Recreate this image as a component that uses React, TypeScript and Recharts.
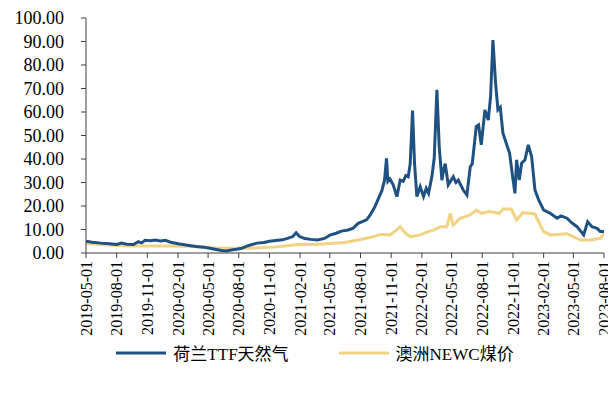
import React from 'react';
import { LineChart, Line, XAxis, YAxis, Legend } from 'recharts';

// 荷兰TTF天然气 (date, value)
const ttfPoints: [string, number][] = [
  ['2019-05-01', 5.0], ['2019-05-20', 4.6], ['2019-06-15', 4.2], ['2019-07-10', 3.9],
  ['2019-08-01', 3.6], ['2019-08-15', 4.2], ['2019-09-01', 3.7], ['2019-09-20', 3.6],
  ['2019-10-05', 4.8], ['2019-10-15', 4.3], ['2019-10-25', 5.4], ['2019-11-10', 5.2],
  ['2019-11-25', 5.5], ['2019-12-10', 5.1], ['2019-12-25', 5.4], ['2020-01-10', 4.6],
  ['2020-02-01', 3.9], ['2020-02-20', 3.5], ['2020-03-10', 3.1], ['2020-04-01', 2.7],
  ['2020-04-20', 2.4], ['2020-05-10', 1.9], ['2020-05-25', 1.5], ['2020-06-10', 1.1],
  ['2020-06-25', 0.9], ['2020-07-10', 1.3], ['2020-07-25', 1.6], ['2020-08-10', 2.0],
  ['2020-08-25', 2.9], ['2020-09-10', 3.6], ['2020-09-25', 4.2], ['2020-10-15', 4.5],
  ['2020-11-01', 5.0], ['2020-11-20', 5.3], ['2020-12-10', 5.6], ['2020-12-25', 6.2],
  ['2021-01-10', 7.0], ['2021-01-20', 8.6], ['2021-01-30', 7.0], ['2021-02-15', 6.2],
  ['2021-03-05', 5.8], ['2021-03-25', 5.5], ['2021-04-15', 6.2], ['2021-05-01', 7.6],
  ['2021-05-20', 8.4], ['2021-06-05', 9.3], ['2021-06-25', 9.8], ['2021-07-10', 10.6],
  ['2021-07-25', 12.6], ['2021-08-10', 13.6], ['2021-08-20', 14.2], ['2021-08-30', 16.2],
  ['2021-09-13', 19.7], ['2021-09-22', 22.6], ['2021-10-04', 26.5], ['2021-10-12', 31.0],
  ['2021-10-18', 40.3], ['2021-10-22', 30.5], ['2021-10-28', 31.5], ['2021-11-07', 29.0],
  ['2021-11-18', 24.0], ['2021-11-28', 31.0], ['2021-12-07', 30.5], ['2021-12-15', 33.0],
  ['2021-12-22', 32.5], ['2021-12-28', 38.0], ['2022-01-04', 60.6], ['2022-01-10', 38.0],
  ['2022-01-17', 24.0], ['2022-01-27', 28.2], ['2022-02-06', 24.0], ['2022-02-14', 27.5],
  ['2022-02-21', 25.4], ['2022-03-03', 32.5], ['2022-03-10', 40.3], ['2022-03-18', 69.4],
  ['2022-03-25', 45.2], ['2022-04-02', 31.0], ['2022-04-08', 36.0], ['2022-04-12', 38.0],
  ['2022-04-21', 29.0], ['2022-05-06', 32.5], ['2022-05-14', 30.0], ['2022-05-21', 31.0],
  ['2022-06-05', 26.8], ['2022-06-16', 24.7], ['2022-06-26', 36.7], ['2022-07-02', 38.0],
  ['2022-07-14', 53.8], ['2022-07-21', 54.5], ['2022-07-29', 46.0], ['2022-08-09', 60.9],
  ['2022-08-19', 56.6], ['2022-08-26', 66.5], ['2022-09-02', 90.6], ['2022-09-10', 72.2],
  ['2022-09-17', 60.9], ['2022-09-24', 62.0], ['2022-10-02', 51.0], ['2022-10-12', 46.7],
  ['2022-10-22', 42.4], ['2022-10-31', 32.5], ['2022-11-07', 25.4], ['2022-11-12', 39.6],
  ['2022-11-20', 31.0], ['2022-11-27', 38.2], ['2022-12-07', 39.6], ['2022-12-17', 46.0],
  ['2022-12-27', 41.0], ['2023-01-06', 26.8], ['2023-01-17', 22.6], ['2023-02-01', 18.3],
  ['2023-02-21', 16.9], ['2023-03-13', 14.8], ['2023-03-25', 15.8], ['2023-04-12', 14.8],
  ['2023-04-25', 13.0], ['2023-05-12', 11.2], ['2023-06-01', 7.7], ['2023-06-13', 13.3],
  ['2023-06-26', 11.2], ['2023-07-11', 10.5], ['2023-07-21', 9.1], ['2023-08-01', 9.1],
];

// 澳洲NEWC煤价 (date, value)
const newcPoints: [string, number][] = [
  ['2019-05-01', 4.0], ['2019-06-15', 3.6], ['2019-08-01', 3.2], ['2019-09-15', 3.0],
  ['2019-11-01', 3.0], ['2020-01-01', 3.0], ['2020-03-01', 2.9], ['2020-04-15', 2.6],
  ['2020-05-20', 2.1], ['2020-07-01', 2.0], ['2020-08-15', 2.0], ['2020-10-01', 2.2],
  ['2020-11-15', 2.5], ['2021-01-01', 3.2], ['2021-02-01', 3.7], ['2021-03-15', 3.6],
  ['2021-05-01', 4.0], ['2021-06-15', 4.5], ['2021-07-20', 5.4], ['2021-08-15', 6.2],
  ['2021-09-10', 7.0], ['2021-10-01', 8.0], ['2021-10-28', 7.7], ['2021-11-15', 9.5],
  ['2021-11-28', 11.2], ['2021-12-13', 8.5], ['2021-12-28', 6.9], ['2022-01-15', 7.3],
  ['2022-01-27', 7.7], ['2022-02-20', 9.1], ['2022-03-10', 9.8], ['2022-03-28', 11.2],
  ['2022-04-17', 11.2], ['2022-04-27', 16.9], ['2022-05-06', 11.9], ['2022-05-27', 14.8],
  ['2022-06-26', 16.2], ['2022-07-14', 18.3], ['2022-07-29', 16.9], ['2022-08-23', 17.6],
  ['2022-09-22', 16.9], ['2022-10-02', 18.7], ['2022-10-27', 18.7], ['2022-11-12', 14.0],
  ['2022-12-01', 17.2], ['2023-01-06', 16.6], ['2023-01-17', 13.3], ['2023-02-01', 9.1],
  ['2023-02-21', 7.7], ['2023-04-12', 8.2], ['2023-05-22', 5.5], ['2023-06-21', 5.5],
  ['2023-07-21', 6.2], ['2023-08-01', 8.5],
];

const xTicks = [
  '2019-05-01', '2019-08-01', '2019-11-01', '2020-02-01', '2020-05-01', '2020-08-01',
  '2020-11-01', '2021-02-01', '2021-05-01', '2021-08-01', '2021-11-01', '2022-02-01',
  '2022-05-01', '2022-08-01', '2022-11-01', '2023-02-01', '2023-05-01', '2023-08-01',
];
const yTicks = [0, 10, 20, 30, 40, 50, 60, 70, 80, 90, 100];

const FONT = '"Liberation Serif", "DejaVu Serif", serif';
const LEGEND_FONT = '"Liberation Serif", "DejaVu Serif", serif, "Noto Sans CJK SC"';
const BLUE = '#1f5183';
const YELLOW = '#f2d384';

const ts = (d: string) => Date.parse(d);
const fmtDate = (t: number) => new Date(t).toISOString().slice(0, 10);

const ttfData = ttfPoints.map(([d, v]) => ({ t: ts(d), value: v }));
const newcData = newcPoints.map(([d, v]) => ({ t: ts(d), value: v }));

const DateTick = (props: any) => {
  const { x, y, payload } = props;
  return (
    <text
      x={x}
      y={y}
      transform={`rotate(-90, ${x}, ${y})`}
      textAnchor="end"
      dy="0.35em"
      fontSize={16}
      fontFamily={FONT}
      fill="#000"
    >
      {fmtDate(payload.value)}
    </text>
  );
};

const legendItems = [
  { name: '荷兰TTF天然气', color: BLUE },
  { name: '澳洲NEWC煤价', color: YELLOW },
];

const renderLegend = () => (
  <div
    style={{
      display: 'flex',
      justifyContent: 'center',
      gap: 50,
      paddingLeft: 18,
      fontFamily: LEGEND_FONT,
      fontSize: 17,
      color: '#000',
    }}
  >
    {legendItems.map((item) => (
      <div key={item.name} style={{ display: 'flex', alignItems: 'center' }}>
        <svg width={50} height={6} style={{ marginRight: 7 }}>
          <line x1={0} y1={3} x2={50} y2={3} stroke={item.color} strokeWidth={3} />
        </svg>
        <span>{item.name}</span>
      </div>
    ))}
  </div>
);

const App: React.FC = () => {
  return (
    <div style={{ width: 608, height: 384 }}>
      <LineChart width={608} height={384} margin={{ top: 10, right: 12, left: 0, bottom: 28 }}>
        <XAxis
          dataKey="t"
          type="number"
          domain={[ts(xTicks[0]), ts(xTicks[xTicks.length - 1])]}
          ticks={xTicks.map(ts)}
          tick={<DateTick />}
          interval={0}
          height={87}
          tickSize={5}
          tickMargin={3}
          axisLine={{ stroke: '#404040' }}
          tickLine={{ stroke: '#404040' }}
          allowDataOverflow
        />
        <YAxis
          type="number"
          domain={[0, 100]}
          ticks={yTicks}
          tickFormatter={(v: number) => v.toFixed(2)}
          width={78}
          tickSize={5}
          tickMargin={17}
          interval={0}
          axisLine={{ stroke: '#404040' }}
          tickLine={{ stroke: '#404040' }}
          tick={{ fontSize: 18, fontFamily: FONT, fill: '#000' }}
        />
        <Legend verticalAlign="bottom" height={24} content={renderLegend} />
        <Line
          data={newcData}
          dataKey="value"
          name="澳洲NEWC煤价"
          type="linear"
          stroke={YELLOW}
          strokeWidth={3}
          dot={false}
          isAnimationActive={false}
        />
        <Line
          data={ttfData}
          dataKey="value"
          name="荷兰TTF天然气"
          type="linear"
          stroke={BLUE}
          strokeWidth={3}
          dot={false}
          isAnimationActive={false}
        />
      </LineChart>
    </div>
  );
};

export default App;
